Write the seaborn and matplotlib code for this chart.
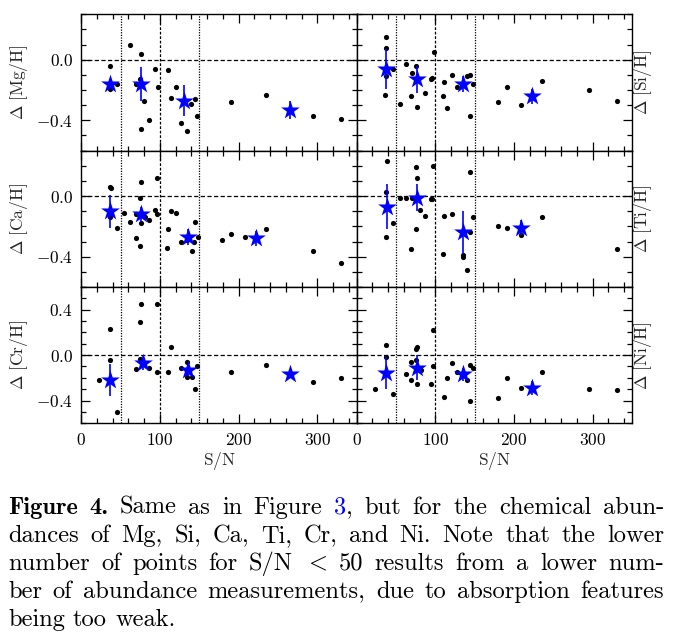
import matplotlib
matplotlib.use("Agg")
import matplotlib.pyplot as plt
import seaborn as sns
from matplotlib.ticker import MultipleLocator, FuncFormatter

# ---- data: S/N and Delta abundance per star ----
mg_sn = [36.8, 36.8, 45.7, 62.2, 76.1, 69.4, 74.9, 80.0, 85.9, 76.1, 93.9, 96.9, 110.4,
         114.6, 120.1, 127.3, 134.9, 140.0, 144.7, 147.6, 190.8, 235.2, 294.8, 330.4]
mg_d = [-0.04, -0.19, -0.16, 0.10, 0.04, -0.16, -0.13, -0.27, -0.40, -0.46, -0.06, -0.18,
        -0.07, -0.25, -0.18, -0.42, -0.47, -0.29, -0.26, -0.37, -0.28, -0.23, -0.37, -0.39]

si_sn = [37.2, 37.6, 36.8, 36.4, 46.5, 55.0, 62.6, 69.8, 75.3, 69.4, 76.6, 86.3, 94.3, 96.4,
         97.7, 110.0, 111.3, 115.1, 121.0, 127.8, 140.9, 144.7, 147.6, 144.2, 179.8, 190.8,
         209.0, 235.6, 295.3, 331.2]
si_d = [0.15, 0.08, -0.11, -0.23, -0.06, -0.29, -0.03, -0.09, -0.04, -0.24, -0.31, -0.22,
        -0.13, -0.12, 0.05, -0.24, -0.15, -0.32, -0.10, -0.18, -0.11, -0.10, -0.16, -0.37,
        -0.28, -0.18, -0.30, -0.14, -0.20, -0.27]

ca_sn = [36.8, 37.2, 36.4, 45.7, 54.6, 61.8, 69.0, 75.7, 74.9, 76.1, 69.0, 74.5, 80.8, 85.9,
         93.9, 96.4, 96.4, 110.4, 109.1, 114.6, 120.1, 127.3, 134.9, 140.4, 144.2, 143.8,
         148.0, 179.4, 190.8, 208.5, 235.2, 294.8, 330.4]
ca_d = [0.06, 0.05, -0.14, -0.21, -0.11, -0.17, -0.12, 0.09, -0.01, -0.18, -0.28, -0.33,
        -0.14, -0.16, -0.09, 0.12, -0.12, -0.22, -0.34, -0.10, -0.11, -0.30, -0.29, -0.36,
        -0.17, -0.30, -0.27, -0.29, -0.25, -0.27, -0.22, -0.36, -0.44]

ti_sn = [38.1, 36.8, 46.5, 37.2, 55.0, 62.6, 69.8, 75.7, 77.0, 80.8, 86.3, 74.9, 69.4, 93.9,
         96.0, 97.3, 110.8, 121.0, 109.6, 135.8, 135.8, 140.9, 144.7, 144.2, 147.6, 179.8,
         190.8, 209.0, 235.6, 331.2]
ti_d = [0.23, 0.03, -0.18, -0.27, -0.01, -0.01, -0.01, 0.19, 0.12, -0.09, -0.13, -0.22,
        -0.35, -0.02, -0.02, 0.20, -0.13, -0.12, -0.38, -0.39, -0.40, -0.49, 0.16, -0.24,
        -0.14, -0.20, -0.21, -0.26, -0.14, -0.35]

cr_sn = [22.8, 36.4, 36.8, 45.7, 69.0, 74.5, 76.1, 74.9, 85.9, 96.4, 96.4, 110.4, 114.6,
         127.3, 134.9, 134.9, 140.4, 144.7, 147.6, 190.8, 235.2, 294.8, 330.4]
cr_d = [-0.22, 0.23, -0.04, -0.50, -0.12, 0.29, 0.45, -0.03, -0.11, -0.15, 0.45, -0.15,
        0.07, -0.11, -0.06, -0.19, -0.19, -0.30, -0.10, -0.15, -0.09, -0.24, -0.20]

ni_sn = [23.7, 37.2, 36.8, 46.5, 62.6, 69.4, 69.4, 74.9, 75.7, 77.0, 76.6, 81.2, 93.9, 96.9,
         97.3, 110.8, 115.1, 121.0, 127.8, 140.9, 144.7, 147.6, 144.2, 179.8, 190.8, 209.0,
         235.6, 295.3, 331.2]
ni_d = [-0.30, 0.09, -0.02, -0.34, -0.17, -0.06, -0.22, -0.04, 0.05, 0.07, -0.25, -0.13,
        -0.25, -0.10, 0.22, -0.37, -0.20, -0.07, -0.15, -0.22, -0.09, -0.11, -0.40, -0.38,
        -0.20, -0.29, -0.15, -0.30, -0.31]

# binned means (blue stars) with their errors
mg_bin_sn = [36.8, 76.1, 131.1, 265.2]
mg_bin_d = [-0.16, -0.16, -0.27, -0.33]
mg_bin_err = [0.02, 0.11, 0.10, 0.06]

si_bin_sn = [37.2, 77.0, 135.4, 222.5]
si_bin_d = [-0.06, -0.13, -0.16, -0.24]
si_bin_err = [0.13, 0.09, 0.05, 0.05]

ca_bin_sn = [36.8, 76.1, 135.8, 222.0]
ca_bin_d = [-0.10, -0.12, -0.27, -0.28]
ca_bin_err = [0.11, 0.05, 0.05, 0.05]

ti_bin_sn = [38.1, 76.6, 135.4, 209.0]
ti_bin_d = [-0.07, -0.01, -0.24, -0.21]
ti_bin_err = [0.15, 0.09, 0.14, 0.05]

cr_bin_sn = [36.8, 78.7, 135.8, 265.2]
cr_bin_d = [-0.22, -0.07, -0.13, -0.17]
cr_bin_err = [0.14, 0.06, 0.05, 0.02]

ni_bin_sn = [37.2, 77.0, 135.4, 222.5]
ni_bin_d = [-0.16, -0.11, -0.17, -0.29]
ni_bin_err = [0.14, 0.11, 0.06, 0.06]

elements = ["Mg", "Si", "Ca", "Ti", "Cr", "Ni"]
points = [(mg_sn, mg_d), (si_sn, si_d), (ca_sn, ca_d),
          (ti_sn, ti_d), (cr_sn, cr_d), (ni_sn, ni_d)]
bins = [(mg_bin_sn, mg_bin_d, mg_bin_err), (si_bin_sn, si_bin_d, si_bin_err),
        (ca_bin_sn, ca_bin_d, ca_bin_err), (ti_bin_sn, ti_bin_d, ti_bin_err),
        (cr_bin_sn, cr_bin_d, cr_bin_err), (ni_bin_sn, ni_bin_d, ni_bin_err)]
row_ylim = [(-0.6, 0.3), (-0.6, 0.3), (-0.6, 0.6)]

# caption, each word is a list of (text, style) pieces
caption = [
    [[("Figure", "b")], [("4.", "b")], [("Same", "r")], [("as", "r")], [("in", "r")],
     [("Figure", "r")], [("3", "blue"), (",", "r")], [("but", "r")], [("for", "r")],
     [("the", "r")], [("chemical", "r")], [("abun-", "r")]],
    [[(w, "r")] for w in "dances of Mg, Si, Ca, Ti, Cr, and Ni. Note that the lower".split()],
    [[(w, "r")] for w in "number of points for S/N".split()] + [[("$<$", "r")]]
    + [[(w, "r")] for w in "50 results from a lower num-".split()],
    [[(w, "r")] for w in "ber of abundance measurements, due to absorption features".split()],
    [[(w, "r")] for w in "being too weak.".split()],
]

# ---- style ----
sns.set_style("ticks")
plt.rcParams["mathtext.fontset"] = "cm"
plt.rcParams["font.family"] = ["cmr10", "DejaVu Serif"]
plt.rcParams["axes.unicode_minus"] = False

fig = plt.figure(figsize=(6.75, 6.4), dpi=100)
axes = fig.subplots(3, 2, sharex=True, gridspec_kw=dict(hspace=0, wspace=0))
fig.subplots_adjust(left=0.1204, right=0.9363, top=0.9777, bottom=0.3386)

yfmt = FuncFormatter(lambda v, p: "$%.1f$" % v if abs(v) > 1e-9 else "$0.0$")
xfmt = FuncFormatter(lambda v, p: "$%d$" % round(v))

for i, ax in enumerate(axes.flat):
    row, col = divmod(i, 2)
    sn, d = points[i]
    bsn, bd, berr = bins[i]

    ax.axhline(0, color="black", lw=0.9, dashes=(3.4, 1.9), zorder=1)
    ax.axvline(50, color="black", lw=0.9, dashes=(1.0, 1.1), zorder=1)
    ax.axvline(100, color="black", lw=0.9, dashes=(2.2, 1.4), zorder=1)
    ax.axvline(150, color="black", lw=0.9, dashes=(1.0, 1.1), zorder=1)

    sns.scatterplot(x=sn, y=d, color="black", s=14, linewidth=0, ax=ax, zorder=2)
    ax.errorbar(bsn, bd, yerr=berr, fmt="none", ecolor="blue", elinewidth=1.2,
                capsize=0, zorder=3)
    sns.scatterplot(x=bsn, y=bd, color="blue", marker="*", s=200, linewidth=0,
                    ax=ax, zorder=4)

    ax.set_xlim(0, 350)
    ax.set_ylim(*row_ylim[row])
    ax.xaxis.set_major_locator(MultipleLocator(100))
    ax.xaxis.set_minor_locator(MultipleLocator(20))
    ax.yaxis.set_major_locator(MultipleLocator(0.4))
    ax.yaxis.set_minor_locator(MultipleLocator(0.1))
    ax.xaxis.set_major_formatter(xfmt)
    ax.yaxis.set_major_formatter(yfmt)
    ax.tick_params(which="both", direction="in", top=True, right=True,
                   width=0.9, labelsize=12.5, colors="black")
    ax.tick_params(which="major", length=6.5, pad=6)
    ax.tick_params(which="minor", length=3.5)
    for sp in ax.spines.values():
        sp.set_linewidth(1.0)
        sp.set_color("black")

    ax.set_ylabel(r"$\Delta\ [\mathrm{%s/H}]$" % elements[i], fontsize=12.5)
    if col == 1:
        ax.tick_params(labelleft=False)
        ax.yaxis.set_label_position("right")
        ax.yaxis.labelpad = 0
    else:
        ax.yaxis.labelpad = 4
    if row == 2:
        ax.set_xlabel("$\\mathrm{S/N}$", fontsize=12.5, labelpad=2)
    else:
        ax.set_xlabel("")

# ---- justified caption ----
renderer = fig.canvas.get_renderer()
W, H = fig.get_size_inches() * fig.dpi
cap_size = 17.6
x_left, x_right = 8, 664
baselines = [514, 542, 570, 598, 626]
space_px = 0.333 * cap_size * fig.dpi / 72


def piece_text(txt, style, x, y):
    fam = ["cmb10"] if style == "b" else ["cmr10", "DejaVu Serif"]
    col = "blue" if style == "blue" else "black"
    return fig.text(x / W, 1 - y / H, txt, fontsize=cap_size, family=fam,
                    color=col, va="baseline", ha="left")


for li, words in enumerate(caption):
    y = baselines[li]
    made = []
    total = 0
    for word in words:
        ws = []
        for txt, style in word:
            t = piece_text(txt, style, 0, y)
            w = t.get_window_extent(renderer).width
            ws.append((t, w))
            total += w
        made.append(ws)
    last = li == len(caption) - 1
    gap = space_px if last else (x_right - x_left - total) / (len(words) - 1)
    x = x_left
    for ws in made:
        for t, w in ws:
            t.set_x(x / W)
            x += w
        x += gap

fig.savefig("out.png", dpi=100)
